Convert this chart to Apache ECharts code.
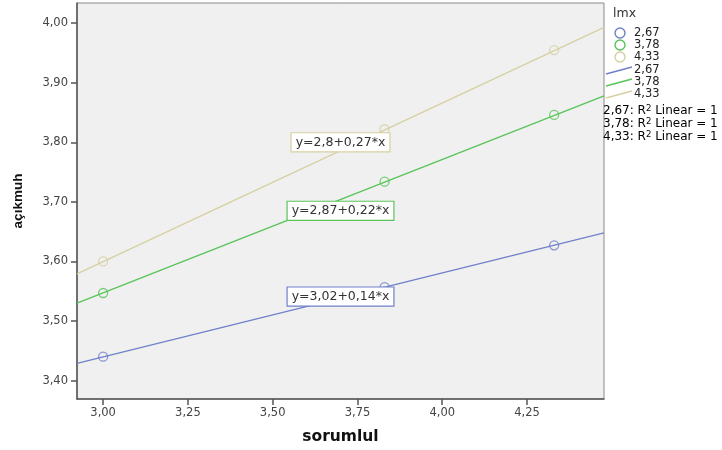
<!DOCTYPE html>
<html><head><meta charset="utf-8">
<script src="https://cdn.jsdelivr.net/npm/echarts@6/dist/echarts.min.js"></script>
<style>html,body{margin:0;padding:0;background:#fff}#c{width:722px;height:450px}</style>
</head><body><div id="c"></div>
<script>
// Data
const groupNames = ['2,67', '3,78', '4,33'];
const xValues = [3.00, 3.83, 4.33];
const yBlue = [3.440, 3.557, 3.627];
const yGreen = [3.547, 3.734, 3.846];
const yTan = [3.600, 3.822, 3.955];
// fit line endpoints (x range of the plot)
const fitX = [2.923, 4.477];
const fitBlue = [3.429, 3.648];
const fitGreen = [3.530, 3.878];
const fitTan = [3.579, 3.993];
const equations = ['y=3,02+0,14*x', 'y=2,87+0,22*x', 'y=2,8+0,27*x'];
const eqPos = [[3.70, 3.541], [3.70, 3.685], [3.70, 3.800]];
const xTicks = [3.00, 3.25, 3.50, 3.75, 4.00, 4.25];
const yTicks = [3.40, 3.50, 3.60, 3.70, 3.80, 3.90, 4.00];

const colors = ['#6f80c9', '#58c458', '#d6d0a2'];
const ys = [yBlue, yGreen, yTan];
const fits = [fitBlue, fitGreen, fitTan];
const fmt = v => v.toFixed(2).replace('.', ',');
const FONT = '"DejaVu Sans", sans-serif';

const series = [];
for (let i = 0; i < 3; i++) {
  series.push({
    type: 'line', name: groupNames[i] + ' fit',
    data: fitX.map((x, k) => [x, fits[i][k]]),
    symbol: 'none', lineStyle: { color: colors[i], width: 1.3 }, z: 2,
    silent: true, animation: false,
    markPoint: {
      symbol: 'rect', symbolSize: 0, animation: false,
      data: [{
        coord: eqPos[i],
        label: {
          show: true, position: 'inside', formatter: equations[i],
          backgroundColor: '#fff', borderColor: colors[i], borderWidth: 1.2,
          padding: [3, 4, 2, 4], color: '#333', fontSize: 12.5, fontFamily: FONT
        }
      }]
    }
  });
}
for (let i = 0; i < 3; i++) {
  series.push({
    type: 'scatter', name: groupNames[i],
    data: xValues.map((x, k) => [x, ys[i][k]]),
    symbol: 'circle', symbolSize: 9,
    itemStyle: { color: 'rgba(0,0,0,0)', borderColor: colors[i], borderWidth: 1.3 },
    z: 3, animation: false
  });
}

const legendTextStyle = { fill: '#222', font: '11.5px ' + FONT };
const graphic = [
  { type: 'text', left: 613, top: 7, style: { text: 'lmx', fill: '#333', font: '12.5px ' + FONT } }
];
const circleRows = [33, 45, 57], lineRows = [70, 82, 94], r2Rows = [111, 124, 137];
for (let i = 0; i < 3; i++) {
  graphic.push({ type: 'circle', shape: { cx: 620, cy: circleRows[i], r: 5 }, style: { fill: 'none', stroke: colors[i], lineWidth: 1.4 } });
  graphic.push({ type: 'text', x: 634, y: circleRows[i], style: Object.assign({ text: groupNames[i], textVerticalAlign: 'middle' }, legendTextStyle) });
  graphic.push({ type: 'line', shape: { x1: 606, y1: lineRows[i] + 4, x2: 632, y2: lineRows[i] - 3 }, style: { stroke: colors[i], lineWidth: 1.3 } });
  graphic.push({ type: 'text', x: 634, y: lineRows[i], style: Object.assign({ text: groupNames[i], textVerticalAlign: 'middle' }, legendTextStyle) });
  graphic.push({ type: 'text', x: 603, y: r2Rows[i], style: {
    text: '{a|' + groupNames[i] + ': R}{s|2}{a| Linear = 1}', textVerticalAlign: 'middle',
    rich: { a: { fontSize: 12, fontFamily: FONT, color: '#222' }, s: { fontSize: 8.5, fontFamily: FONT, color: '#222', verticalAlign: 'top', padding: [0, 0, 5, 0] } }
  } });
}

const chart = echarts.init(document.getElementById('c'), null, { renderer: 'canvas' });
chart.setOption({
  animation: false,
  backgroundColor: '#fff',
  grid: { left: 77, top: 3, width: 527, height: 396, show: true, backgroundColor: '#f0f0f0', borderColor: '#8a8a8a', borderWidth: 1 },
  xAxis: {
    type: 'value', min: fitX[0], max: fitX[1],
    name: 'sorumlul', nameLocation: 'middle', nameGap: 30,
    nameTextStyle: { fontFamily: FONT, fontWeight: 'bold', fontSize: 15.5, color: '#111' },
    axisLine: { show: true, lineStyle: { color: '#555', width: 1.5 } },
    axisTick: { show: true, length: 6, lineStyle: { color: '#555', width: 1.5 }, customValues: xTicks },
    axisLabel: { customValues: xTicks, formatter: fmt, margin: 8, color: '#444', fontSize: 11.5, fontFamily: FONT },
    splitLine: { show: false }
  },
  yAxis: {
    type: 'value', min: 3.369, max: 4.034,
    name: 'açıkmuh', nameLocation: 'middle', nameGap: 52,
    nameTextStyle: { fontFamily: '"Liberation Sans", Arial, sans-serif', fontWeight: 'bold', fontSize: 13.5, color: '#111' },
    axisLine: { show: true, lineStyle: { color: '#555', width: 1.5 } },
    axisTick: { show: true, length: 6, lineStyle: { color: '#555', width: 1.5 }, customValues: yTicks },
    axisLabel: { customValues: yTicks, formatter: fmt, margin: 9, color: '#444', fontSize: 11.5, fontFamily: FONT },
    splitLine: { show: false }
  },
  series: series,
  graphic: graphic
});
</script></body></html>
